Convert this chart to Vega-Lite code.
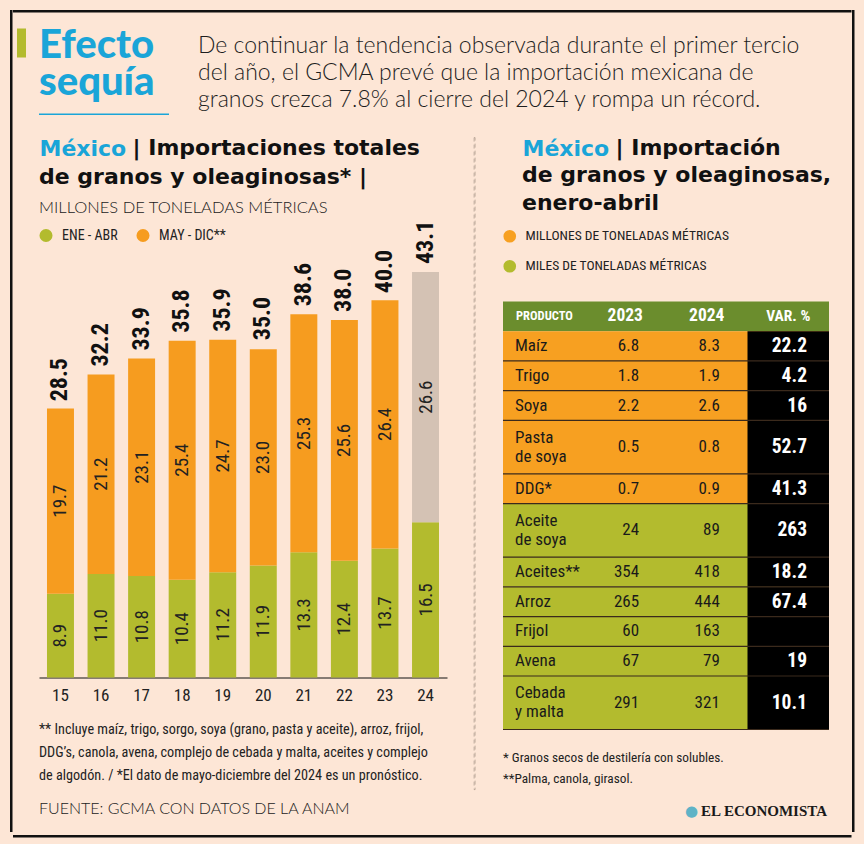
{
  "$schema": "https://vega.github.io/schema/vega-lite/v6.json",
  "background": "#fde6d6",
  "padding": {"left": 10, "top": 10, "right": 10.5, "bottom": 11},
  "config": {
    "view": {"stroke": null},
    "title": {"anchor": "start", "frame": "group"},
    "legend": {"symbolStrokeWidth": 0, "labelLimit": 0}
  },
  "datasets": {
    "segmentos": [
      {"anio": "15", "periodo": "ENE - ABR", "valor": 8.9},
      {"anio": "15", "periodo": "MAY - DIC**", "valor": 19.7},
      {"anio": "16", "periodo": "ENE - ABR", "valor": 11.0},
      {"anio": "16", "periodo": "MAY - DIC**", "valor": 21.2},
      {"anio": "17", "periodo": "ENE - ABR", "valor": 10.8},
      {"anio": "17", "periodo": "MAY - DIC**", "valor": 23.1},
      {"anio": "18", "periodo": "ENE - ABR", "valor": 10.4},
      {"anio": "18", "periodo": "MAY - DIC**", "valor": 25.4},
      {"anio": "19", "periodo": "ENE - ABR", "valor": 11.2},
      {"anio": "19", "periodo": "MAY - DIC**", "valor": 24.7},
      {"anio": "20", "periodo": "ENE - ABR", "valor": 11.9},
      {"anio": "20", "periodo": "MAY - DIC**", "valor": 23.0},
      {"anio": "21", "periodo": "ENE - ABR", "valor": 13.3},
      {"anio": "21", "periodo": "MAY - DIC**", "valor": 25.3},
      {"anio": "22", "periodo": "ENE - ABR", "valor": 12.4},
      {"anio": "22", "periodo": "MAY - DIC**", "valor": 25.6},
      {"anio": "23", "periodo": "ENE - ABR", "valor": 13.7},
      {"anio": "23", "periodo": "MAY - DIC**", "valor": 26.4},
      {"anio": "24", "periodo": "ENE - ABR", "valor": 16.5},
      {"anio": "24", "periodo": "MAY - DIC** (pronóstico)", "valor": 26.6}
    ],
    "totales": [
      {"anio": "15", "total": 28.5},
      {"anio": "16", "total": 32.2},
      {"anio": "17", "total": 33.9},
      {"anio": "18", "total": 35.8},
      {"anio": "19", "total": 35.9},
      {"anio": "20", "total": 35.0},
      {"anio": "21", "total": 38.6},
      {"anio": "22", "total": 38.0},
      {"anio": "23", "total": 40.0},
      {"anio": "24", "total": 43.1}
    ],
    "tabla": [
      {"producto": "PRODUCTO", "a2023": "2023", "a2024": "2024", "var": "VAR. %", "unidad": "ENCABEZADO", "lineas": 1},
      {"producto": "Maíz", "a2023": "6.8", "a2024": "8.3", "var": "22.2", "unidad": "MILLONES DE TONELADAS MÉTRICAS", "lineas": 1},
      {"producto": "Trigo", "a2023": "1.8", "a2024": "1.9", "var": "4.2", "unidad": "MILLONES DE TONELADAS MÉTRICAS", "lineas": 1},
      {"producto": "Soya", "a2023": "2.2", "a2024": "2.6", "var": "16", "unidad": "MILLONES DE TONELADAS MÉTRICAS", "lineas": 1},
      {"producto": "Pasta\nde soya", "a2023": "0.5", "a2024": "0.8", "var": "52.7", "unidad": "MILLONES DE TONELADAS MÉTRICAS", "lineas": 2},
      {"producto": "DDG*", "a2023": "0.7", "a2024": "0.9", "var": "41.3", "unidad": "MILLONES DE TONELADAS MÉTRICAS", "lineas": 1},
      {"producto": "Aceite\nde soya", "a2023": "24", "a2024": "89", "var": "263", "unidad": "MILES DE TONELADAS MÉTRICAS", "lineas": 2},
      {"producto": "Aceites**", "a2023": "354", "a2024": "418", "var": "18.2", "unidad": "MILES DE TONELADAS MÉTRICAS", "lineas": 1},
      {"producto": "Arroz", "a2023": "265", "a2024": "444", "var": "67.4", "unidad": "MILES DE TONELADAS MÉTRICAS", "lineas": 1},
      {"producto": "Frijol", "a2023": "60", "a2024": "163", "var": "", "unidad": "MILES DE TONELADAS MÉTRICAS", "lineas": 1},
      {"producto": "Avena", "a2023": "67", "a2024": "79", "var": "19", "unidad": "MILES DE TONELADAS MÉTRICAS", "lineas": 1},
      {"producto": "Cebada\ny malta", "a2023": "291", "a2024": "321", "var": "10.1", "unidad": "MILES DE TONELADAS MÉTRICAS", "lineas": 2}
    ]
  },
  "resolve": {"scale": {"color": "independent", "fill": "independent"}, "legend": {"color": "independent", "fill": "independent"}},
  "spacing": 0,
  "hconcat": [
    {"width": 2.5, "height": 822, "data": {"values": []}, "mark": "point", "encoding": {}, "view": {"fill": "#111111", "stroke": null}},
    {
      "spacing": 12.5,
      "resolve": {"scale": {"color": "independent", "fill": "independent"}, "legend": {"color": "independent", "fill": "independent"}},
      "vconcat": [
        {"width": 838.5, "height": 2.5, "data": {"values": []}, "mark": "point", "encoding": {}, "view": {"fill": "#111111", "stroke": null}},
        {
          "spacing": 15.5,
          "resolve": {"scale": {"color": "independent", "fill": "independent"}, "legend": {"color": "independent", "fill": "independent"}},
          "vconcat": [
            {
              "spacing": 3,
              "resolve": {"scale": {"color": "independent", "fill": "independent"}, "legend": {"color": "independent", "fill": "independent"}},
              "hconcat": [
                {"width": 1, "height": 1, "data": {"values": []}, "mark": "point", "encoding": {}},
                {
                  "spacing": 21,
                  "resolve": {"scale": {"color": "independent", "fill": "independent"}, "legend": {"color": "independent", "fill": "independent"}},
                  "vconcat": [
                    {
                      "spacing": 13,
                      "hconcat": [
                        {"width": 9, "height": 29, "data": {"values": []}, "mark": "point", "encoding": {}, "view": {"fill": "#b3bb2e", "stroke": null}},
                        {
                          "spacing": 29,
                          "hconcat": [
                            {
                              "spacing": 11,
                              "vconcat": [
                                {
                                  "width": 130, "height": 1, "data": {"values": []}, "mark": "point", "encoding": {},
                                  "title": {"text": ["Efecto", "sequía"], "orient": "bottom", "font": "Lato", "fontWeight": 900, "fontSize": 40, "lineHeight": 37, "color": "#1aa5d8", "offset": -4}
                                },
                                {"width": 130, "height": 1.5, "data": {"values": []}, "mark": "point", "encoding": {}, "view": {"fill": "#1aa5d8", "stroke": null}}
                              ]
                            },
                            {
                              "width": 620, "height": 1, "data": {"values": []}, "mark": "point", "encoding": {},
                              "title": {"text": ["De continuar la tendencia observada durante el primer tercio", "del año, el GCMA prevé que la importación mexicana de", "granos crezca 7.8% al cierre del 2024 y rompa un récord."], "orient": "bottom", "font": "Lato", "fontWeight": 300, "fontSize": 23, "lineHeight": 27, "color": "#1e1e1e", "offset": 5}
                            }
                          ]
                        }
                      ]
                    },
                    {
                      "spacing": 9,
                      "resolve": {"scale": {"color": "independent", "fill": "independent"}, "legend": {"color": "independent", "fill": "independent"}},
                      "vconcat": [
                        {
                          "spacing": 21,
                          "resolve": {"scale": {"color": "independent", "fill": "independent"}, "legend": {"color": "independent", "fill": "independent"}},
                          "hconcat": [
                            {"width": 1, "height": 1, "data": {"values": []}, "mark": "point", "encoding": {}},
                            {
                              "spacing": 26,
                              "resolve": {"scale": {"color": "independent", "fill": "independent"}, "legend": {"color": "independent", "fill": "independent"}},
                              "hconcat": [
                                {
                                  "spacing": 12,
                                  "resolve": {"scale": {"color": "independent", "fill": "independent"}, "legend": {"color": "independent", "fill": "independent"}},
                                  "vconcat": [
                                    {
                                      "width": 408, "height": 1, "data": {"values": []}, "mark": "point",
                                      "encoding": {"x": {"datum": 0, "type": "quantitative", "axis": {"title": "México", "orient": "bottom", "labels": false, "ticks": false, "domain": false, "grid": false, "titleAnchor": "start", "titleAlign": "left", "titleBaseline": "top", "titleFont": "DejaVu Sans", "titleFontWeight": "bold", "titleFontSize": 22, "titleColor": "#1aa5d8", "titlePadding": 0}}},
                                      "title": {"text": ["\u200b\u2003\u2003\u2003\u2003\u2005| Importaciones totales", "de granos y oleaginosas* |"], "orient": "bottom", "font": "DejaVu Sans", "fontWeight": "bold", "fontSize": 22, "lineHeight": 29, "color": "#111111", "offset": -22}
                                    },
                                    {
                                      "width": 408, "height": 461,
                                      "title": {"text": "MILLONES DE TONELADAS MÉTRICAS", "font": "Lato", "fontWeight": 300, "fontSize": 16.5, "color": "#222222", "offset": 0},
                                      "layer": [
                                        {
                                          "data": {"name": "segmentos"},
                                          "transform": [{"stack": "valor", "groupby": ["anio"], "sort": [{"field": "periodo", "order": "ascending"}], "as": ["v0", "v1"]}],
                                          "mark": {"type": "bar"},
                                          "encoding": {
                                            "x": {"field": "anio", "type": "nominal", "sort": null, "scale": {"paddingInner": 0.335, "paddingOuter": 0.197},
                                                  "axis": {"title": null, "domainColor": "#111111", "domainWidth": 1, "ticks": false, "labelFont": "Roboto Condensed, DejaVu Sans Condensed, sans-serif", "labelFontSize": 17, "labelColor": "#222222", "labelPadding": 10, "labelAngle": 0, "grid": false}},
                                            "y": {"field": "v0", "type": "quantitative", "scale": {"domain": [0, 49], "nice": false}, "axis": null},
                                            "y2": {"field": "v1"},
                                            "color": {"field": "periodo", "type": "nominal",
                                                      "scale": {"domain": ["ENE - ABR", "MAY - DIC**", "MAY - DIC** (pronóstico)"], "range": ["#b3bb2e", "#f69c1f", "#d4c2b4"]},
                                                      "legend": {"orient": "none", "legendX": 0, "legendY": 12, "direction": "horizontal", "title": null, "values": ["ENE - ABR", "MAY - DIC**"], "symbolType": "circle", "symbolSize": 170, "labelFont": "Roboto Condensed, DejaVu Sans Condensed, sans-serif", "labelFontSize": 14, "labelColor": "#222222", "columnPadding": 18, "labelOffset": 9, "padding": 0}}
                                          }
                                        },
                                        {
                                          "data": {"name": "segmentos"},
                                          "transform": [
                                            {"stack": "valor", "groupby": ["anio"], "sort": [{"field": "periodo", "order": "ascending"}], "as": ["v0", "v1"]},
                                            {"calculate": "(datum.v0 + datum.v1) / 2", "as": "vm"}
                                          ],
                                          "mark": {"type": "text", "angle": 270, "align": "center", "baseline": "middle", "font": "Roboto Condensed, DejaVu Sans Condensed, sans-serif", "fontSize": 19, "color": "#222222"},
                                          "encoding": {
                                            "x": {"field": "anio", "type": "nominal", "sort": null},
                                            "y": {"field": "vm", "type": "quantitative"},
                                            "text": {"field": "valor", "type": "quantitative", "format": ".1f"}
                                          }
                                        },
                                        {
                                          "data": {"name": "totales"},
                                          "mark": {"type": "text", "angle": 270, "align": "left", "baseline": "middle", "dx": 8, "font": "Roboto Condensed, DejaVu Sans Condensed, sans-serif", "fontWeight": "bold", "fontSize": 24, "color": "#111111"},
                                          "encoding": {
                                            "x": {"field": "anio", "type": "nominal", "sort": null},
                                            "y": {"field": "total", "type": "quantitative"},
                                            "text": {"field": "total", "type": "quantitative", "format": ".1f"}
                                          }
                                        }
                                      ]
                                    },
                                    {
                                      "width": 408, "height": 1, "data": {"values": []}, "mark": "point", "encoding": {},
                                      "title": {"text": ["** Incluye maíz, trigo, sorgo, soya (grano, pasta y aceite), arroz, frijol,", "DDG’s, canola, avena, complejo de cebada y malta, aceites y complejo", "de algodón. / *El dato de mayo-diciembre del 2024 es un pronóstico."], "orient": "bottom", "font": "Roboto Condensed, DejaVu Sans Condensed, sans-serif", "fontWeight": "normal", "fontSize": 14.2, "lineHeight": 23, "color": "#222222", "offset": 6}
                                    }
                                  ]
                                },
                                {"width": 1, "height": 652, "data": {"values": []}, "mark": "point", "encoding": {}, "view": {"stroke": "#9c8b7e", "strokeWidth": 0.6, "strokeDash": [4, 3]}},
                                {
                                  "spacing": 16,
                                  "resolve": {"scale": {"color": "independent", "fill": "independent"}, "legend": {"color": "independent", "fill": "independent"}},
                                  "vconcat": [
                                    {
                                      "spacing": 18,
                                      "hconcat": [
                                        {"width": 1, "height": 1, "data": {"values": []}, "mark": "point", "encoding": {}},
                                        {
                                          "width": 307, "height": 1, "data": {"values": []}, "mark": "point",
                                          "encoding": {"x": {"datum": 0, "type": "quantitative", "axis": {"title": "México", "orient": "bottom", "labels": false, "ticks": false, "domain": false, "grid": false, "titleAnchor": "start", "titleAlign": "left", "titleBaseline": "top", "titleFont": "DejaVu Sans", "titleFontWeight": "bold", "titleFontSize": 22, "titleColor": "#1aa5d8", "titlePadding": 0}}},
                                          "title": {"text": ["\u200b\u2003\u2003\u2003\u2003\u2005| Importación", "de granos y oleaginosas,", "enero-abril"], "orient": "bottom", "font": "DejaVu Sans", "fontWeight": "bold", "fontSize": 22, "lineHeight": 27.5, "color": "#111111", "offset": -22}
                                        }
                                      ]
                                    },
                                    {
                                      "width": 326, "height": 428,
                                      "data": {"name": "tabla"},
                                      "transform": [
                                        {"calculate": "datum.lineas + 0.25", "as": "h"},
                                        {"window": [{"op": "sum", "field": "h", "as": "y1"}], "frame": [null, 0]},
                                        {"calculate": "datum.y1 - datum.h", "as": "y0"},
                                        {"calculate": "(datum.y0 + datum.y1) / 2", "as": "ym"}
                                      ],
                                      "layer": [
                                        {
                                          "mark": {"type": "rect"},
                                          "encoding": {
                                            "y": {"field": "y0", "type": "quantitative", "scale": {"reverse": true, "nice": false, "zero": true}, "axis": null},
                                            "y2": {"field": "y1"},
                                            "fill": {"field": "unidad", "type": "nominal",
                                                     "scale": {"domain": ["MILLONES DE TONELADAS MÉTRICAS", "MILES DE TONELADAS MÉTRICAS", "ENCABEZADO"], "range": ["#f7a021", "#b3bb2e", "#6b8d2d"]},
                                                     "legend": {"orient": "top", "direction": "vertical", "title": null, "values": ["MILLONES DE TONELADAS MÉTRICAS", "MILES DE TONELADAS MÉTRICAS"], "symbolType": "circle", "symbolSize": 160, "labelFont": "Roboto Condensed, DejaVu Sans Condensed, sans-serif", "labelFontSize": 13.5, "labelColor": "#222222", "rowPadding": 15, "labelOffset": 9, "offset": 28, "padding": 0}}
                                          }
                                        },
                                        {
                                          "transform": [{"filter": "datum.unidad !== 'ENCABEZADO'"}],
                                          "mark": {"type": "rect", "color": "#000000"},
                                          "encoding": {
                                            "x": {"datum": "VAR. %", "type": "nominal", "scale": {"domain": ["PRODUCTO", "2023", "2024", "VAR. %"], "paddingInner": 0, "paddingOuter": 0}, "axis": null},
                                            "y": {"field": "y0", "type": "quantitative"},
                                            "y2": {"field": "y1"}
                                          }
                                        },
                                        {
                                          "transform": [{"filter": "datum.unidad !== 'ENCABEZADO'"}],
                                          "mark": {"type": "rule", "color": "#3b2a1c", "strokeWidth": 1.2},
                                          "encoding": {"y": {"field": "y1", "type": "quantitative"}}
                                        },
                                        {
                                          "transform": [{"filter": "datum.unidad !== 'ENCABEZADO' && datum.lineas == 1"}],
                                          "mark": {"type": "text", "align": "left", "baseline": "middle", "dx": 12, "font": "Roboto Condensed, DejaVu Sans Condensed, sans-serif", "fontSize": 17, "color": "#1a1a1a"},
                                          "encoding": {"x": {"datum": "PRODUCTO", "type": "nominal", "bandPosition": 0}, "y": {"field": "ym", "type": "quantitative"}, "text": {"field": "producto"}}
                                        },
                                        {
                                          "transform": [{"filter": "datum.lineas == 2"}],
                                          "mark": {"type": "text", "align": "left", "baseline": "middle", "dx": 12, "dy": -9.5, "font": "Roboto Condensed, DejaVu Sans Condensed, sans-serif", "fontSize": 17, "lineBreak": "\n", "lineHeight": 19, "color": "#1a1a1a"},
                                          "encoding": {"x": {"datum": "PRODUCTO", "type": "nominal", "bandPosition": 0}, "y": {"field": "ym", "type": "quantitative"}, "text": {"field": "producto"}}
                                        },
                                        {
                                          "transform": [{"filter": "datum.unidad !== 'ENCABEZADO'"}],
                                          "mark": {"type": "text", "align": "right", "baseline": "middle", "font": "Roboto Condensed, DejaVu Sans Condensed, sans-serif", "fontSize": 17, "color": "#1a1a1a"},
                                          "encoding": {"x": {"datum": "2023", "type": "nominal", "bandPosition": 0.67}, "y": {"field": "ym", "type": "quantitative"}, "text": {"field": "a2023"}}
                                        },
                                        {
                                          "transform": [{"filter": "datum.unidad !== 'ENCABEZADO'"}],
                                          "mark": {"type": "text", "align": "right", "baseline": "middle", "font": "Roboto Condensed, DejaVu Sans Condensed, sans-serif", "fontSize": 17, "color": "#1a1a1a"},
                                          "encoding": {"x": {"datum": "2024", "type": "nominal", "bandPosition": 0.66}, "y": {"field": "ym", "type": "quantitative"}, "text": {"field": "a2024"}}
                                        },
                                        {
                                          "transform": [{"filter": "datum.unidad !== 'ENCABEZADO'"}],
                                          "mark": {"type": "text", "align": "right", "baseline": "middle", "font": "Roboto Condensed, DejaVu Sans Condensed, sans-serif", "fontWeight": "bold", "fontSize": 19.5, "color": "#ffffff"},
                                          "encoding": {"x": {"datum": "VAR. %", "type": "nominal", "bandPosition": 0.73}, "y": {"field": "ym", "type": "quantitative"}, "text": {"field": "var"}}
                                        },
                                        {
                                          "transform": [{"filter": "datum.unidad === 'ENCABEZADO'"}],
                                          "mark": {"type": "text", "align": "left", "baseline": "middle", "dx": 13, "font": "Roboto Condensed, DejaVu Sans Condensed, sans-serif", "fontWeight": "bold", "fontSize": 12.5, "color": "#ffffff"},
                                          "encoding": {"x": {"datum": "PRODUCTO", "type": "nominal", "bandPosition": 0}, "y": {"field": "ym", "type": "quantitative"}, "text": {"field": "producto"}}
                                        },
                                        {
                                          "transform": [{"filter": "datum.unidad === 'ENCABEZADO'"}],
                                          "mark": {"type": "text", "align": "center", "baseline": "middle", "font": "Roboto Condensed, DejaVu Sans Condensed, sans-serif", "fontWeight": "bold", "fontSize": 17.5, "color": "#ffffff"},
                                          "encoding": {"x": {"datum": "2023", "type": "nominal", "bandPosition": 0.5}, "y": {"field": "ym", "type": "quantitative"}, "text": {"field": "a2023"}}
                                        },
                                        {
                                          "transform": [{"filter": "datum.unidad === 'ENCABEZADO'"}],
                                          "mark": {"type": "text", "align": "center", "baseline": "middle", "font": "Roboto Condensed, DejaVu Sans Condensed, sans-serif", "fontWeight": "bold", "fontSize": 17.5, "color": "#ffffff"},
                                          "encoding": {"x": {"datum": "2024", "type": "nominal", "bandPosition": 0.5}, "y": {"field": "ym", "type": "quantitative"}, "text": {"field": "a2024"}}
                                        },
                                        {
                                          "transform": [{"filter": "datum.unidad === 'ENCABEZADO'"}],
                                          "mark": {"type": "text", "align": "center", "baseline": "middle", "font": "Roboto Condensed, DejaVu Sans Condensed, sans-serif", "fontWeight": "bold", "fontSize": 15.5, "color": "#ffffff"},
                                          "encoding": {"x": {"datum": "VAR. %", "type": "nominal", "bandPosition": 0.5}, "y": {"field": "ym", "type": "quantitative"}, "text": {"field": "var"}}
                                        }
                                      ]
                                    },
                                    {
                                      "width": 326, "height": 1, "data": {"values": []}, "mark": "point", "encoding": {},
                                      "title": {"text": ["* Granos secos de destilería con solubles.", "**Palma, canola, girasol."], "orient": "bottom", "font": "Roboto Condensed, DejaVu Sans Condensed, sans-serif", "fontWeight": "normal", "fontSize": 13.3, "lineHeight": 21, "color": "#222222", "offset": 3.5}
                                    }
                                  ]
                                }
                              ]
                            }
                          ]
                        },
                        {
                          "spacing": 21,
                          "hconcat": [
                            {"width": 1, "height": 1, "data": {"values": []}, "mark": "point", "encoding": {}},
                            {
                              "spacing": 52,
                              "hconcat": [
                                {"width": 408, "height": 1, "data": {"values": []}, "mark": "point", "encoding": {},
                                 "title": {"text": "FUENTE: GCMA CON DATOS DE LA ANAM", "orient": "bottom", "font": "Lato", "fontWeight": 300, "fontSize": 16, "color": "#222222", "offset": 0}},
                                {
                                  "spacing": 0,
                                  "hconcat": [
                                    {"width": 199, "height": 1, "data": {"values": []}, "mark": "point", "encoding": {},
                                     "title": {"text": "●", "orient": "bottom", "anchor": "end", "font": "DejaVu Sans", "fontSize": 15, "color": "#5fb3c6", "offset": 3}},
                                    {"width": 129, "height": 1, "data": {"values": []}, "mark": "point", "encoding": {},
                                     "title": {"text": "EL ECONOMISTA", "orient": "bottom", "anchor": "end", "font": "Liberation Serif", "fontWeight": "bold", "fontSize": 15, "color": "#1a1a1a", "offset": 3.5}}
                                  ]
                                }
                              ]
                            }
                          ]
                        }
                      ]
                    }
                  ]
                }
              ]
            },
            {"width": 838.5, "height": 2.5, "data": {"values": []}, "mark": "point", "encoding": {}, "view": {"fill": "#111111", "stroke": null}}
          ]
        }
      ]
    },
    {"width": 2.5, "height": 822, "data": {"values": []}, "mark": "point", "encoding": {}, "view": {"fill": "#111111", "stroke": null}}
  ]
}
